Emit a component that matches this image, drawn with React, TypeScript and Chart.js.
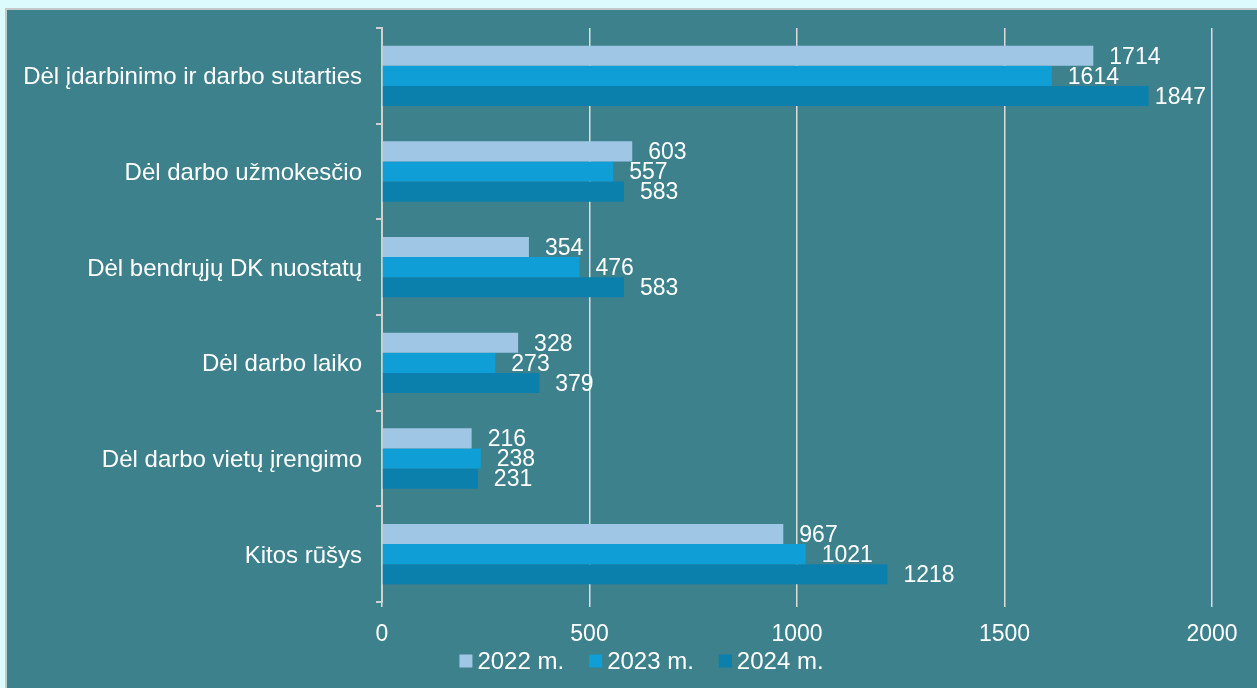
import React, { useEffect, useRef } from "react";
import { Chart, registerables } from "chart.js";

Chart.register(...registerables);

const categories = [
  "Dėl įdarbinimo ir darbo sutarties",
  "Dėl darbo užmokesčio",
  "Dėl bendrųjų DK nuostatų",
  "Dėl darbo laiko",
  "Dėl darbo vietų įrengimo",
  "Kitos rūšys",
];
const seriesNames = ["2022 m.", "2023 m.", "2024 m."];
const values2022 = [1714, 603, 354, 328, 216, 967];
const values2023 = [1614, 557, 476, 273, 238, 1021];
const values2024 = [1847, 583, 583, 379, 231, 1218];
const xTicks = [0, 500, 1000, 1500, 2000];

const colors = ["#a0c6e6", "#0f9ed6", "#0b80ac"];
const FONT = "'Liberation Sans', Arial, sans-serif";

const valueLabels = {
  id: "valueLabels",
  afterDatasetsDraw(chart: any) {
    const ctx = chart.ctx;
    ctx.save();
    ctx.fillStyle = "#ffffff";
    ctx.font = `23px ${FONT}`;
    ctx.textAlign = "left";
    ctx.textBaseline = "middle";
    const limit = chart.chartArea.right - 6;
    chart.data.datasets.forEach((ds: any, di: number) => {
      const meta = chart.getDatasetMeta(di);
      meta.data.forEach((el: any, i: number) => {
        const t = String(ds.data[i]);
        const w = ctx.measureText(t).width;
        const x = Math.min(el.x + 16, limit - w);
        ctx.fillText(t, x, el.y + 1.5);
      });
    });
    ctx.restore();
  },
};

const customLegend = {
  id: "customLegend",
  afterDraw(chart: any) {
    const ctx = chart.ctx;
    ctx.save();
    ctx.font = `24px ${FONT}`;
    ctx.textBaseline = "middle";
    ctx.textAlign = "left";
    const box = 13;
    const gap = 5;
    const spacing = 25;
    const items = chart.data.datasets.map((ds: any) => ({
      text: ds.label,
      color: ds.backgroundColor,
      w: ctx.measureText(ds.label).width,
    }));
    const total =
      items.reduce((a: number, it: any) => a + box + gap + it.w, 0) +
      spacing * (items.length - 1);
    const cx = 634.5;
    const cy = 651;
    let x = cx - total / 2;
    items.forEach((it: any) => {
      ctx.fillStyle = it.color;
      ctx.fillRect(x, cy - box / 2, box, box);
      ctx.fillStyle = "#ffffff";
      ctx.fillText(it.text, x + box + gap, cy + 1);
      x += box + gap + it.w + spacing;
    });
    ctx.restore();
  },
};

export default function App() {
  const ref = useRef<HTMLCanvasElement>(null);
  useEffect(() => {
    const data = [values2022, values2023, values2024];
    const chart = new Chart(ref.current!, {
      type: "bar",
      data: {
        labels: categories,
        datasets: seriesNames.map((n, i) => ({
          label: n,
          data: data[i],
          backgroundColor: colors[i],
          borderWidth: 0,
          categoryPercentage: 0.63,
          barPercentage: 1,
        })),
      },
      options: {
        indexAxis: "y",
        animation: false,
        responsive: false,
        maintainAspectRatio: false,
        layout: { padding: { left: 0, top: 18, right: 45, bottom: 0 } },
        plugins: {
          tooltip: { enabled: false },
          legend: { display: false },
        },
        scales: {
          x: {
            min: 0,
            max: 2000,
            afterBuildTicks: (s: any) => {
              s.ticks = xTicks.map((v) => ({ value: v }));
            },
            afterFit: (s: any) => {
              s.height = 86;
              s.paddingLeft = 0;
              s.paddingRight = 0;
            },
            border: { display: false },
            grid: {
              color: "#dcdcdc",
              lineWidth: 1.5,
              tickLength: 5,
            },
            ticks: {
              color: "#ffffff",
              font: { family: FONT, size: 23 },
              padding: 14,
              callback: (v: any) => String(v),
            },
          },
          y: {
            afterFit: (s: any) => {
              s.width = 375;
              s.paddingTop = 0;
              s.paddingBottom = 0;
            },
            border: { display: true, color: "#d0d0d0", width: 2 },
            grid: {
              drawOnChartArea: false,
              drawTicks: true,
              tickLength: 6,
              color: "#d0d0d0",
              lineWidth: 2,
              offset: true,
            },
            ticks: {
              color: "#ffffff",
              font: { family: FONT, size: 24 },
              padding: 14,
              labelOffset: 2,
            },
          },
        },
      },
      plugins: [valueLabels, customLegend],
    });
    return () => chart.destroy();
  }, []);

  return (
    <div
      style={{
        position: "absolute",
        left: 0,
        top: 0,
        width: 1257,
        height: 688,
        background: "#dcfbfd",
        overflow: "hidden",
      }}
    >
      <div
        style={{
          position: "absolute",
          left: 5,
          top: 8,
          width: 1260,
          height: 690,
          background: "#3d818c",
          border: "2px solid #c4c8c8",
        }}
      >
        <canvas
          ref={ref}
          width={1250}
          height={678}
          style={{ position: "absolute", left: 0, top: 0, width: 1250, height: 678 }}
        />
      </div>
    </div>
  );
}
